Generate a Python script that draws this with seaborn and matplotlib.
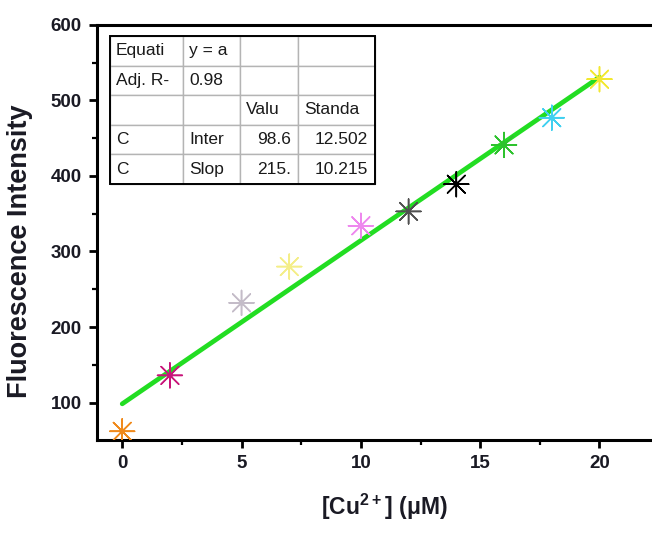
import matplotlib
matplotlib.use("Agg")
import matplotlib.pyplot as plt
import seaborn as sns
import pandas as pd
from matplotlib.ticker import MultipleLocator
from matplotlib.patches import Rectangle

# ---- data ----
conc = [0, 2, 5, 7, 10, 12, 14, 16, 18, 20]
intensity = [62, 136, 232, 280, 334, 353, 389, 441, 477, 528]
point_colors = ["#f08a1c", "#c8157a", "#c4bcc8", "#f4ee88", "#ee88ee",
                "#505050", "#000000", "#2ec22e", "#40d0f0", "#f2e830"]
table_rows = [
    ["Equati", "y = a", "", ""],
    ["Adj. R-", "0.98", "", ""],
    ["", "", "Valu", "Standa"],
    ["C", "Inter", "98.6", "12.502"],
    ["C", "Slop", "215.", "10.215"],
]
x_ticks = [0, 5, 10, 15, 20]
y_ticks = [100, 200, 300, 400, 500, 600]

df = pd.DataFrame({"conc": conc, "intensity": intensity,
                   "pt": [str(i) for i in range(len(conc))]})

sns.set_theme(style="ticks")
plt.rcParams["font.family"] = ["Liberation Sans", "DejaVu Sans"]
plt.rcParams["mathtext.fontset"] = "custom"
plt.rcParams["mathtext.bf"] = "Liberation Sans:bold"
plt.rcParams["mathtext.rm"] = "Liberation Sans:bold"

fig = plt.figure(figsize=(6.52, 5.33), dpi=100)
ax = fig.add_axes([0.149, 0.1745, 0.851, 0.779])

sns.regplot(data=df, x="conc", y="intensity", ci=None, scatter=False,
            line_kws=dict(color="#22dd22", lw=3.4, zorder=2), ax=ax)

sns.scatterplot(data=df, x="conc", y="intensity", hue="pt",
                palette=point_colors, marker=(8, 2, 0), s=320,
                linewidth=1.1, legend=False, zorder=3, ax=ax)
sns.scatterplot(data=df, x="conc", y="intensity", hue="pt",
                palette=point_colors, marker="o", s=16,
                linewidth=0, legend=False, zorder=4, ax=ax)

ax.set_xlim(-1.05, 22.2)
ax.set_ylim(50.5, 600)
ax.set_xticks(x_ticks)
ax.set_yticks(y_ticks)
ax.xaxis.set_minor_locator(MultipleLocator(2.5))
ax.yaxis.set_minor_locator(MultipleLocator(50))

for s in ["left", "bottom", "top"]:
    ax.spines[s].set_linewidth(2.2)
    ax.spines[s].set_color("black")
ax.spines["right"].set_visible(False)

ax.tick_params(axis="both", which="major", direction="out", length=6,
               width=2, labelsize=13.5, colors="black", pad=5)
ax.tick_params(axis="both", which="minor", direction="out", length=3.5,
               width=1.6, colors="black")
ax.tick_params(top=False, right=False, which="both")
for lab in ax.get_xticklabels() + ax.get_yticklabels():
    lab.set_fontweight("bold")
    lab.set_color("#1a1a24")

ax.set_xlabel("[Cu$^{\\mathbf{2+}}$] (μM)", fontsize=16.5, fontweight="bold",
              color="#1a1a24")
ax.set_ylabel("Fluorescence Intensity", fontsize=19.5, fontweight="bold",
              color="#1a1a24")
ax.xaxis.set_label_coords(0.517, -0.125)
ax.yaxis.set_label_coords(-0.115, 0.455)

# ---- statistics table ----
bbox = [0.0234, 0.617, 0.477, 0.356]
col_px = [73, 57, 58, 77]
tbl = ax.table(cellText=table_rows, cellLoc="left", bbox=bbox,
               colWidths=col_px)
tbl.auto_set_font_size(False)
tbl.set_fontsize(12.5)
for (r, c), cell in tbl.get_celld().items():
    cell.set_edgecolor("#b4b4b4")
    cell.set_linewidth(1.0)
    cell.set_facecolor("white")
    cell.get_text().set_color("#1a1a1a")
    if r >= 3 and c >= 2:
        cell._loc = "right"
        cell.get_text().set_ha("right")
        cell.PAD = 7.0 / col_px[c]
    else:
        cell.PAD = 6.0 / col_px[c]
ax.add_patch(Rectangle((bbox[0], bbox[1]), bbox[2], bbox[3],
                       transform=ax.transAxes, fill=False,
                       edgecolor="black", lw=1.4, zorder=10))

fig.savefig("out.png", dpi=100)
